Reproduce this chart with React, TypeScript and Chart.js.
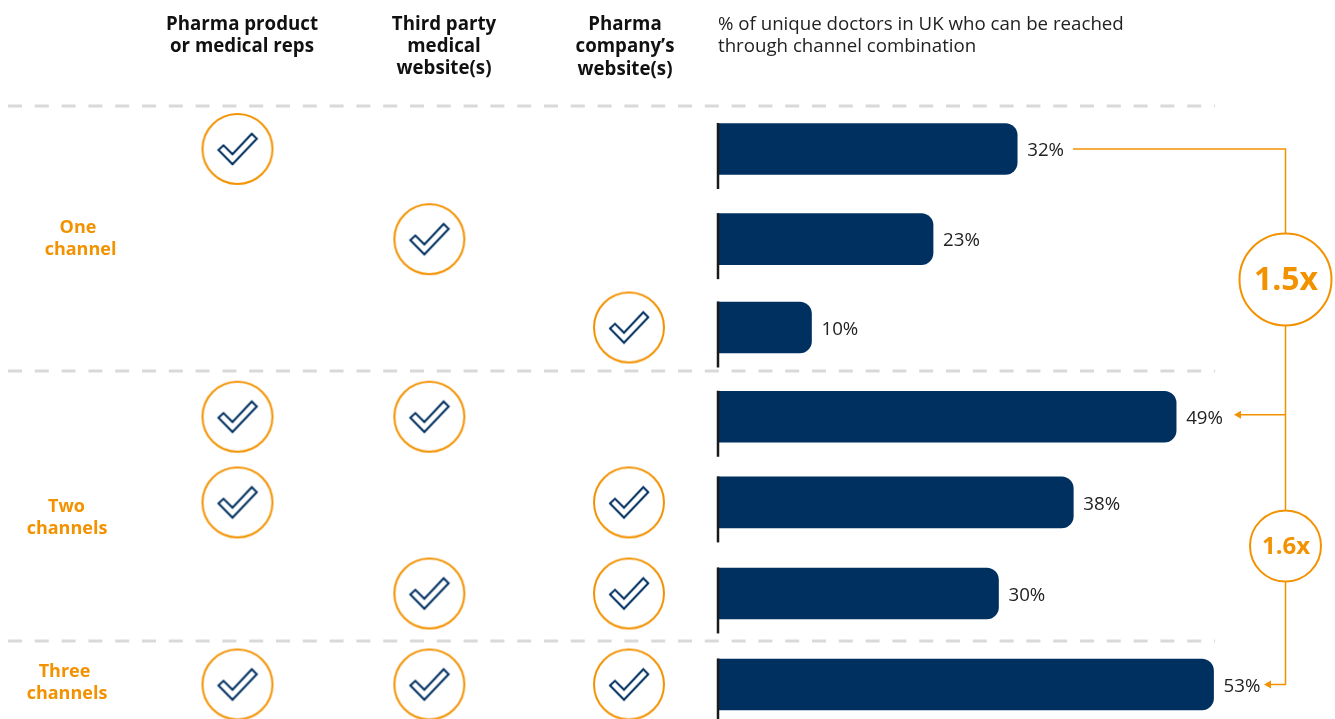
import React, { useEffect, useRef } from "react";
import { Chart, registerables } from "chart.js";

Chart.register(...registerables);

// Channel combinations, one row per bar
const channels = ["Pharma product\nor medical reps", "Third party\nmedical\nwebsite(s)", "Pharma\ncompany’s\nwebsite(s)"];
const reachPercent = [32, 23, 10, 49, 38, 30, 53];
const pharmaReps = [1, 0, 0, 1, 1, 0, 1];
const thirdParty = [0, 1, 0, 1, 0, 1, 1];
const pharmaSite = [0, 0, 1, 0, 1, 1, 1];
const groupLabels = ["One\nchannel", "Two\nchannels", "Three\nchannels"];
const axisTitle = "% of unique doctors in UK who can be reached\nthrough channel combination";
const multiples = ["1.5x", "1.6x"];

// Layout
const W = 1335;
const H = 719;
const NAVY = "#003060";
const ORANGE = "#f39200";
const FONT = '"Open Sans"';
const rowSlots = [0, 1.01, 2, 3, 3.96, 4.98, 6];
const columnSlots = [0, 0.98, 2];
const ZERO_PX = 718;
const PX_PER_PERCENT = 9.35;
const FIRST_ROW_PX = 149;
const PX_PER_ROW = 89.25;
const FIRST_COL_PX = 237.5;
const PX_PER_COL = 195.75;
const separatorYs = [106, 371, 641];
const headerSpots = [
  { x: 242, ys: [25, 47] },
  { x: 444, ys: [25, 47, 69] },
  { x: 625, ys: [25, 47, 70] },
];
const titleYs = [25, 47];
const groupSpots = [
  { xs: [78, 80.5], ys: [228, 250] },
  { xs: [66.5, 67], ys: [507, 529] },
  { xs: [64.5, 67], ys: [672, 694] },
];

function tickBadge(): HTMLCanvasElement {
  const c = document.createElement("canvas");
  c.width = 76;
  c.height = 76;
  const g = c.getContext("2d")!;
  g.translate(38, 38);
  g.beginPath();
  g.arc(0, 0, 35, 0, Math.PI * 2);
  g.fillStyle = "#fff";
  g.fill();
  g.lineWidth = 2;
  g.strokeStyle = ORANGE;
  g.stroke();
  g.beginPath();
  g.moveTo(-19, 1);
  g.lineTo(-14, -3.7);
  g.lineTo(-5, 5.3);
  g.lineTo(14.3, -15.3);
  g.lineTo(19.3, -10.3);
  g.lineTo(-5, 15.3);
  g.closePath();
  g.lineWidth = 2;
  g.strokeStyle = NAVY;
  g.stroke();
  return c;
}

const decorations = {
  id: "decorations",
  beforeDatasetsDraw(chart: any) {
    const { ctx } = chart;
    ctx.save();
    // Group separators sit underneath the marks
    ctx.strokeStyle = "#d9d9d9";
    ctx.lineWidth = 3;
    ctx.setLineDash([14, 12.8]);
    separatorYs.forEach((sy) => {
      ctx.beginPath();
      ctx.moveTo(8, sy);
      ctx.lineTo(1215, sy);
      ctx.stroke();
    });
    ctx.restore();
  },
  afterDatasetsDraw(chart: any) {
    const { ctx } = chart;
    const x = chart.scales.x;
    const y = chart.scales.y;
    const rowPx = (i: number) => y.getPixelForValue(rowSlots[i]);
    const bars = chart.getDatasetMeta(0).data;

    const text = (s: string, tx: number, ty: number, font: string, color: string, align: CanvasTextAlign) => {
      ctx.font = font;
      ctx.fillStyle = color;
      ctx.textAlign = align;
      ctx.textBaseline = "middle";
      ctx.fillText(s, tx, ty);
    };

    ctx.save();

    // Column headers and the axis title
    channels.forEach((name, i) => {
      name.split("\n").forEach((line, j) => {
        text(line, headerSpots[i].x, headerSpots[i].ys[j], `bold 18.7px ${FONT}`, "#111", "center");
      });
    });
    axisTitle.split("\n").forEach((line, j) => {
      text(line, ZERO_PX, titleYs[j], `18.7px ${FONT}`, "#222", "left");
    });

    // Group names on the left
    groupLabels.forEach((name, i) => {
      name.split("\n").forEach((line, j) => {
        text(line, groupSpots[i].xs[j], groupSpots[i].ys[j], `bold 18px ${FONT}`, ORANGE, "center");
      });
    });

    // Baseline stub and value label on each bar
    reachPercent.forEach((v, i) => {
      const py = rowPx(i);
      const x0 = x.getPixelForValue(0);
      ctx.fillStyle = "#1a1a1a";
      ctx.fillRect(x0 - 1.25, py - 26, 2.5, 66);
      text(`${v}%`, bars[i].x + 10, py + 2, `18.7px ${FONT}`, "#222", "left");
    });

    // Multiplier bracket
    const railX = 1285.5;
    const top = rowPx(0);
    const mid = rowPx(3);
    const bottom = rowPx(6);
    ctx.strokeStyle = ORANGE;
    ctx.lineWidth = 1.5;
    ctx.beginPath();
    ctx.moveTo(1073, top);
    ctx.lineTo(railX, top);
    ctx.lineTo(railX, bottom);
    ctx.lineTo(1270, bottom);
    ctx.moveTo(railX, mid - 2);
    ctx.lineTo(1240, mid - 2);
    ctx.stroke();
    ctx.fillStyle = ORANGE;
    [[1234, mid - 2], [1264, bottom]].forEach(([ax, ay]) => {
      ctx.beginPath();
      ctx.moveTo(ax, ay);
      ctx.lineTo(ax + 7, ay - 4);
      ctx.lineTo(ax + 7, ay + 4);
      ctx.closePath();
      ctx.fill();
    });

    [
      { label: multiples[0], cy: 279.5, r: 46, size: 32 },
      { label: multiples[1], cy: 546, r: 35.5, size: 24 },
    ].forEach(({ label, cy, r, size }) => {
      ctx.beginPath();
      ctx.arc(railX, cy, r, 0, Math.PI * 2);
      ctx.fillStyle = "#fff";
      ctx.fill();
      ctx.lineWidth = 2;
      ctx.strokeStyle = ORANGE;
      ctx.stroke();
      text(label, railX + 0.5, cy + 1.5, `bold ${size}px ${FONT}`, ORANGE, "center");
    });

    ctx.restore();
  },
};

export default function App() {
  const ref = useRef<HTMLCanvasElement>(null);

  useEffect(() => {
    const badge = tickBadge();
    const ticks = [pharmaReps, thirdParty, pharmaSite].flatMap((flags, col) =>
      flags.flatMap((on, row) => (on ? [{ x: columnSlots[col], y: rowSlots[row] }] : []))
    );

    const chart = new Chart(ref.current!, {
      type: "bar",
      data: {
        datasets: [
          {
            label: "Reach",
            data: reachPercent.map((v, i) => ({ x: v, y: rowSlots[i] })),
            backgroundColor: NAVY,
            barThickness: 51,
            borderSkipped: false,
            borderRadius: { topLeft: 0, bottomLeft: 0, topRight: 12, bottomRight: 12 },
            xAxisID: "x",
            yAxisID: "y",
          },
          {
            type: "scatter",
            label: "Channels used",
            data: ticks,
            pointStyle: badge,
            xAxisID: "columns",
            yAxisID: "y",
          },
        ],
      } as any,
      options: {
        indexAxis: "y",
        responsive: false,
        animation: false,
        // The point images would otherwise inset the plot area
        layout: { padding: 0, autoPadding: false },
        plugins: { legend: { display: false }, tooltip: { enabled: false } },
        scales: {
          x: {
            type: "linear",
            display: false,
            offset: false,
            min: -ZERO_PX / PX_PER_PERCENT,
            max: (W - ZERO_PX) / PX_PER_PERCENT,
          },
          columns: {
            type: "linear",
            axis: "x",
            display: false,
            offset: false,
            min: -FIRST_COL_PX / PX_PER_COL,
            max: (W - FIRST_COL_PX) / PX_PER_COL,
          },
          y: {
            type: "linear",
            display: false,
            offset: false,
            reverse: true,
            min: -FIRST_ROW_PX / PX_PER_ROW,
            max: (H - FIRST_ROW_PX) / PX_PER_ROW,
          },
        },
      } as any,
      plugins: [decorations],
    });
    return () => chart.destroy();
  }, []);

  return (
    <div style={{ position: "absolute", left: 0, top: 0, width: W, height: H, background: "#fff" }}>
      <canvas ref={ref} width={W} height={H} style={{ display: "block" }} />
    </div>
  );
}
